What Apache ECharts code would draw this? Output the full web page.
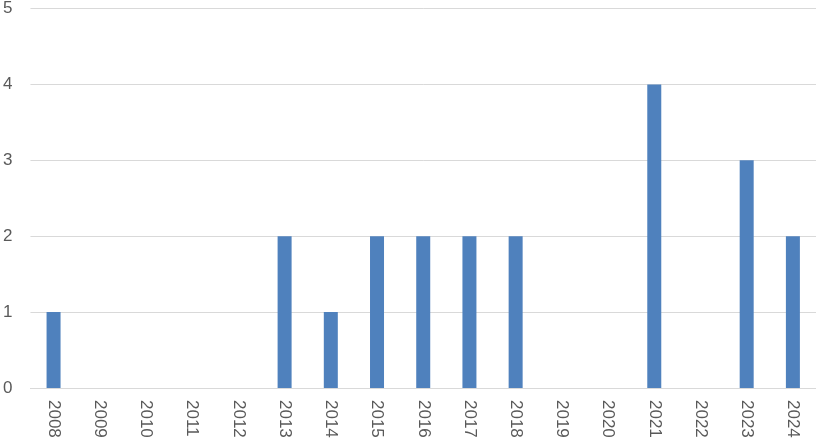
<!DOCTYPE html>
<html><head><meta charset="utf-8">
<script src="https://cdn.jsdelivr.net/npm/echarts@6/dist/echarts.min.js"></script>
<style>html,body{margin:0;padding:0;background:#fff}#c{width:816px;height:441px}</style>
</head><body><div id="c"></div>
<script>
const years = ['2008','2009','2010','2011','2012','2013','2014','2015','2016','2017','2018','2019','2020','2021','2022','2023','2024'];
const counts = [1,0,0,0,0,2,1,2,2,2,2,0,0,4,0,3,2];
const yTicks = [0,1,2,3,4,5];
const chart = echarts.init(document.getElementById('c'), null, {renderer:'canvas'});
chart.setOption({
  animation:false,
  grid:{left:28,right:0,top:6.5,bottom:53,containLabel:false},
  xAxis:{type:'category',data:years,
    axisLine:{show:true,lineStyle:{color:'#d9d9d9',width:1}},
    axisTick:{show:false},
    axisLabel:{rotate:-90,margin:12,color:'#595959',fontFamily:'Liberation Sans',fontSize:17,interval:0}},
  yAxis:{type:'value',min:yTicks[0],max:yTicks[yTicks.length-1],interval:1,
    axisLine:{show:false},axisTick:{show:false},
    splitLine:{lineStyle:{color:'#d9d9d9',width:1}},
    axisLabel:{margin:18,color:'#595959',fontFamily:'Liberation Sans',fontSize:17}},
  series:[{type:'bar',data:counts,barWidth:14,itemStyle:{color:'#4f81bd'}}]
});
</script></body></html>
